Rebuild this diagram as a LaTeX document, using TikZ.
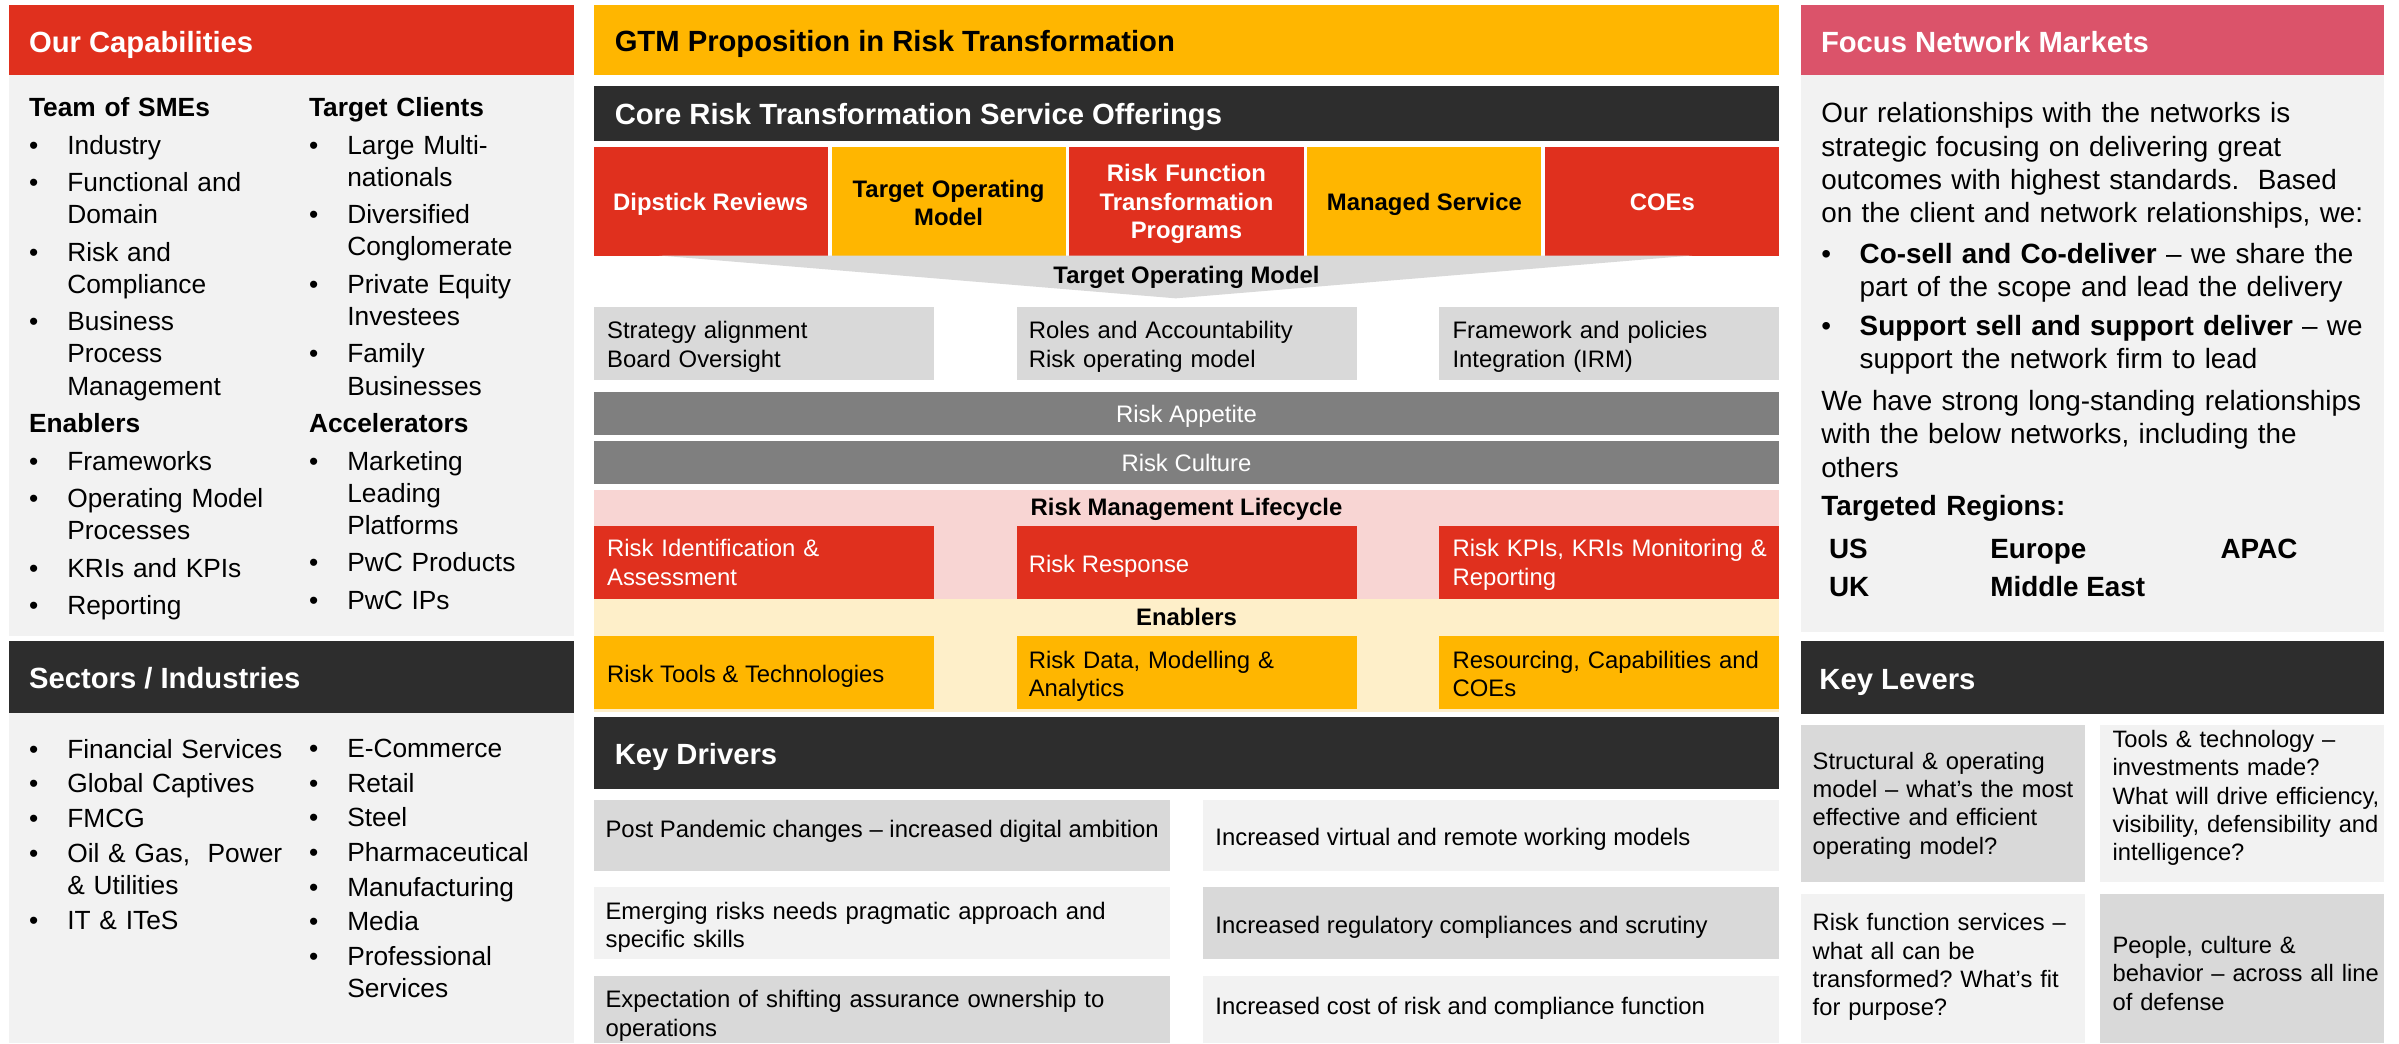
\documentclass[tikz,border=0pt]{standalone}
\usepackage{fontspec}
\setmainfont{Liberation Sans}
\frenchspacing
\definecolor{pwcred}{HTML}{E0301E}
\definecolor{pwcyel}{HTML}{FFB600}
\definecolor{pwcdark}{HTML}{2D2D2D}
\definecolor{pwcrose}{HTML}{DB536A}
\definecolor{lgray}{HTML}{F2F2F2}
\definecolor{mgray}{HTML}{D9D9D9}
\definecolor{bgray}{HTML}{7F7F7F}
\definecolor{pinkband}{HTML}{F8D5D3}
\definecolor{creamband}{HTML}{FEEFC9}
\newcommand\fHead{\fontsize{19.1}{22}\selectfont\bfseries}
\newcommand\fBody{\fontsize{17.2}{21.0}\selectfont}
\newcommand\fSec{\fontsize{17.2}{21.2}\selectfont}
\newcommand\fNet{\fontsize{18.2}{21.8}\selectfont}
\newcommand\fMid{\fontsize{15.6}{18.6}\selectfont}
\newcommand\fOff{\fontsize{15.6}{18.6}\selectfont\bfseries}
\newcommand\fLev{\fontsize{15.5}{18.5}\selectfont}
\newcommand\mybul{\makebox[25pt][l]{•}}
\newcommand\myind{\hspace*{25pt}}
\tikzset{
  bx/.style={anchor=north west, inner sep=0pt, outer sep=0pt, draw=none},
  tl/.style={anchor=north west, inner sep=0pt, align=left},
  tn/.style={anchor=north, inner sep=0pt, align=center},
  tb/.style={anchor=base west, inner sep=0pt},
  tc/.style={anchor=base, inner sep=0pt},
  hd/.style={anchor=base west, inner sep=0pt, font=\fHead},
}
\begin{document}
\frenchspacing
\begin{tikzpicture}[x=1pt,y=-1pt]
\useasboundingbox (0,0) rectangle (1568,682);
\fill[white] (0,0) rectangle (1568,682);

% ---------------- Left panel ----------------
\node[bx, fill=pwcred, minimum width=369pt, minimum height=46pt] (capHead) at (6,3) {};
\node[bx, fill=lgray, minimum width=369pt, minimum height=366.5pt] (capBody) at (6,49) {};
\node[hd, text=white] (capTitle) at (18.8,34.1) {Our Capabilities};
\node[tl, text width=175pt, font=\fBody] (capL) at (18.8,61.3) {\strut\textbf{Team of SMEs}\\[3.5pt]
\mybul Industry\\[3.5pt]
\mybul Functional and\\ \myind Domain\\[3.5pt]
\mybul Risk and\\ \myind Compliance\\[3.5pt]
\mybul Business\\ \myind Process\\ \myind Management\\[3.5pt]
\textbf{Enablers}\\[3.5pt]
\mybul Frameworks\\[3.5pt]
\mybul Operating Model\\ \myind Processes\\[3.5pt]
\mybul KRIs and KPIs\\[3.5pt]
\mybul Reporting};
\node[tl, text width=168pt, font=\fBody] (capR) at (201.8,61.3) {\strut\textbf{Target Clients}\\[3.5pt]
\mybul Large Multi-\\ \myind nationals\\[3.5pt]
\mybul Diversified\\ \myind Conglomerate\\[3.5pt]
\mybul Private Equity\\ \myind Investees\\[3.5pt]
\mybul Family\\ \myind Businesses\\[3.5pt]
\textbf{Accelerators}\\[3.5pt]
\mybul Marketing\\ \myind Leading\\ \myind Platforms\\[3.5pt]
\mybul PwC Products\\[3.5pt]
\mybul PwC IPs};

\node[bx, fill=pwcdark, minimum width=369pt, minimum height=47.3pt] (secHead) at (6,418.7) {};
\node[bx, fill=lgray, minimum width=369pt, minimum height=216pt] (secBody) at (6,466) {};
\node[hd, text=white] (secTitle) at (18.8,450.1) {Sectors / Industries};
\node[tl, text width=178pt, font=\fSec] (secL) at (18.8,480.6) {\strut\mybul Financial Services\\[1.4pt]
\mybul Global Captives\\[1.4pt]
\mybul FMCG\\[1.4pt]
\mybul Oil \& Gas,\ \ Power\\ \myind \& Utilities\\[1.4pt]
\mybul IT \& ITeS};
\node[tl, text width=168pt, font=\fSec] (secR) at (201.8,480.2) {\strut\mybul E-Commerce\\[1.4pt]
\mybul Retail\\[1.4pt]
\mybul Steel\\[1.4pt]
\mybul Pharmaceutical\\[1.4pt]
\mybul Manufacturing\\[1.4pt]
\mybul Media\\[1.4pt]
\mybul Professional\\ \myind Services};

% ---------------- Middle panel ----------------
\node[bx, fill=pwcyel, minimum width=775pt, minimum height=46pt] (gtmHead) at (388,3) {};
\node[hd, text=black] (gtmTitle) at (401.6,33.8) {GTM Proposition in Risk Transformation};
\node[bx, fill=pwcdark, minimum width=775pt, minimum height=36pt] (coreHead) at (388,56) {};
\node[hd, text=white] (coreTitle) at (401.6,81.7) {Core Risk Transformation Service Offerings};

\node[bx, fill=pwcred, minimum width=153pt, minimum height=71pt] (off1) at (388,96) {};
\node[bx, fill=pwcyel, minimum width=153pt, minimum height=71pt] (off2) at (543.5,96) {};
\node[bx, fill=pwcred, minimum width=153pt, minimum height=71pt] (off3) at (699,96) {};
\node[bx, fill=pwcyel, minimum width=153pt, minimum height=71pt] (off4) at (854.5,96) {};
\node[bx, fill=pwcred, minimum width=153pt, minimum height=71pt] (off5) at (1010,96) {};
\node[tc, font=\fOff, text=white] (off1t) at (464.5,137.3) {Dipstick Reviews};
\node[tn, text width=150pt, font=\fOff, text=black] (off2t) at (620,115.6) {\strut Target Operating\\Model};
\node[tn, text width=150pt, font=\fOff, text=white] (off3t) at (775.5,105.7) {\strut Risk Function\\Transformation\\Programs};
\node[tc, font=\fOff, text=black] (off4t) at (931,137.3) {Managed Service};
\node[tc, font=\fOff, text=white] (off5t) at (1086.5,137.3) {COEs};

\fill[mgray] (431,167) -- (1106,167) -- (768.5,195) -- cycle;
\node[tc, font=\fOff] (tomLabel) at (775.5,185.2) {Target Operating Model};

\node[bx, fill=mgray, minimum width=222.5pt, minimum height=47.7pt] (tom1) at (388,200.7) {};
\node[bx, fill=mgray, minimum width=222.5pt, minimum height=47.7pt] (tom2) at (664.5,200.7) {};
\node[bx, fill=mgray, minimum width=222.5pt, minimum height=47.7pt] (tom3) at (940.5,200.7) {};
\node[tl, text width=214pt, font=\fMid] (tom1t) at (396.6,208.3) {\strut Strategy alignment\\Board Oversight};
\node[tl, text width=214pt, font=\fMid] (tom2t) at (672.2,208.3) {\strut Roles and Accountability\\Risk operating model};
\node[tl, text width=214pt, font=\fMid] (tom3t) at (949.2,208.3) {\strut Framework and policies\\Integration (IRM)};

\node[bx, fill=bgray, minimum width=775pt, minimum height=28.1pt] (appetite) at (388,256.2) {};
\node[tc, font=\fMid, text=white] (appetitet) at (775.5,276.2) {Risk Appetite};
\node[bx, fill=bgray, minimum width=775pt, minimum height=28.1pt] (culture) at (388,288.2) {};
\node[tc, font=\fMid, text=white] (culturet) at (775.5,308.2) {Risk Culture};

\node[bx, fill=pinkband, minimum width=775pt, minimum height=71.2pt] (lifeBand) at (388,320.3) {};
\node[tc, font=\fOff] (lifeLabel) at (775.5,337.2) {Risk Management Lifecycle};
\node[bx, fill=pwcred, minimum width=222.5pt, minimum height=47.7pt] (life1) at (388,343.8) {};
\node[bx, fill=pwcred, minimum width=222.5pt, minimum height=47.7pt] (life2) at (664.5,343.8) {};
\node[bx, fill=pwcred, minimum width=222.5pt, minimum height=47.7pt] (life3) at (940.5,343.8) {};
\node[tl, text width=214pt, font=\fMid, text=white] (life1t) at (396.6,350.6) {\strut Risk Identification \&\\Assessment};
\node[tb, font=\fMid, text=white] (life2t) at (672.2,374.2) {Risk Response};
\node[tl, text width=214pt, font=\fMid, text=white] (life3t) at (949.2,350.6) {\strut Risk KPIs, KRIs Monitoring \&\\Reporting};

\node[bx, fill=creamband, minimum width=775pt, minimum height=73.6pt] (enabBand) at (388,391.5) {};
\node[tc, font=\fOff] (enabLabel) at (775.5,408.6) {Enablers};
\node[bx, fill=pwcyel, minimum width=222.5pt, minimum height=47.7pt] (enab1) at (388,415.7) {};
\node[bx, fill=pwcyel, minimum width=222.5pt, minimum height=47.7pt] (enab2) at (664.5,415.7) {};
\node[bx, fill=pwcyel, minimum width=222.5pt, minimum height=47.7pt] (enab3) at (940.5,415.7) {};
\node[tb, font=\fMid] (enab1t) at (396.6,446.1) {Risk Tools \& Technologies};
\node[tl, text width=214pt, font=\fMid] (enab2t) at (672.2,423.6) {\strut Risk Data, Modelling \&\\Analytics};
\node[tl, text width=214pt, font=\fMid] (enab3t) at (949.2,423.6) {\strut Resourcing, Capabilities and\\COEs};

\node[bx, fill=pwcdark, minimum width=775pt, minimum height=47.1pt] (drvHead) at (388,468.4) {};
\node[hd, text=white] (drvTitle) at (401.6,499.4) {Key Drivers};
\node[bx, fill=mgray, minimum width=376.5pt, minimum height=46pt] (drv1L) at (388,523) {};
\node[bx, fill=lgray, minimum width=377pt, minimum height=46pt] (drv1R) at (786,523) {};
\node[bx, fill=lgray, minimum width=376.5pt, minimum height=47pt] (drv2L) at (388,580) {};
\node[bx, fill=mgray, minimum width=377pt, minimum height=47pt] (drv2R) at (786,580) {};
\node[bx, fill=mgray, minimum width=376.5pt, minimum height=44pt] (drv3L) at (388,638) {};
\node[bx, fill=lgray, minimum width=377pt, minimum height=44pt] (drv3R) at (786,638) {};
\node[tb, font=\fMid] (drv1Lt) at (395.6,547.4) {Post Pandemic changes – increased digital ambition};
\node[tl, text width=366pt, font=\fMid] (drv2Lt) at (395.6,587.6) {\strut Emerging risks needs pragmatic approach and\\specific skills};
\node[tl, text width=366pt, font=\fMid] (drv3Lt) at (395.6,645.4) {\strut Expectation of shifting assurance ownership to\\operations};
\node[tb, font=\fMid] (drv1Rt) at (794.2,552.8) {Increased virtual and remote working models};
\node[tb, font=\fMid] (drv2Rt) at (794.2,610.1) {Increased regulatory compliances and scrutiny};
\node[tb, font=\fMid] (drv3Rt) at (794.2,662.8) {Increased cost of risk and compliance function};

% ---------------- Right panel ----------------
\node[bx, fill=pwcrose, minimum width=381pt, minimum height=46pt] (netHead) at (1177,3) {};
\node[bx, fill=lgray, minimum width=381pt, minimum height=364pt] (netBody) at (1177,49) {};
\node[hd, text=white] (netTitle) at (1190,34.1) {Focus Network Markets};
\node[tl, text width=400pt, font=\fNet] (netTxt) at (1190.3,64.8) {\strut Our relationships with the networks is\\
strategic focusing on delivering great\\
outcomes with highest standards.\ \ Based\\
on the client and network relationships, we:\\[4.8pt]
\mybul\textbf{Co-sell and Co-deliver} – we share the\\
\myind part of the scope and lead the delivery\\[3.5pt]
\mybul\textbf{Support sell and support deliver} – we\\
\myind support the network firm to lead\\[5.3pt]
We have strong long-standing relationships\\
with the below networks, including the\\
others\\[3.5pt]
\textbf{Targeted Regions:}};
\node[tb, font=\fNet\bfseries] (rUS) at (1195.3,364.9) {US};
\node[tb, font=\fNet\bfseries] (rEU) at (1300.7,364.9) {Europe};
\node[tb, font=\fNet\bfseries] (rAP) at (1451.2,364.9) {APAC};
\node[tb, font=\fNet\bfseries] (rUK) at (1195.3,389.7) {UK};
\node[tb, font=\fNet\bfseries] (rME) at (1300.7,389.7) {Middle East};

\node[bx, fill=pwcdark, minimum width=381pt, minimum height=47.8pt] (levHead) at (1177,418.7) {};
\node[hd, text=white] (levTitle) at (1189,450.6) {Key Levers};
\node[bx, fill=mgray, minimum width=186pt, minimum height=102.3pt] (lev1) at (1177,474) {};
\node[bx, fill=lgray, minimum width=185.5pt, minimum height=102.3pt] (lev2) at (1372.5,474) {};
\node[bx, fill=lgray, minimum width=186pt, minimum height=97.7pt] (lev3) at (1177,584.3) {};
\node[bx, fill=mgray, minimum width=185.5pt, minimum height=97.7pt] (lev4) at (1372.5,584.3) {};
\node[tl, text width=180pt, font=\fLev] (lev1t) at (1184.6,489.6) {\strut Structural \& operating\\model – what’s the most\\effective and efficient\\operating model?};
\node[tl, text width=180pt, font=\fLev] (lev2t) at (1380.6,475.4) {\strut Tools \& technology –\\investments made?\\What will drive efficiency,\\visibility, defensibility and\\intelligence?};
\node[tl, text width=180pt, font=\fLev] (lev3t) at (1184.6,595.2) {\strut Risk function services –\\what all can be\\transformed? What’s fit\\for purpose?};
\node[tl, text width=180pt, font=\fLev] (lev4t) at (1380.6,610.1) {\strut People, culture \&\\behavior – across all line\\of defense};
\end{tikzpicture}
\end{document}
